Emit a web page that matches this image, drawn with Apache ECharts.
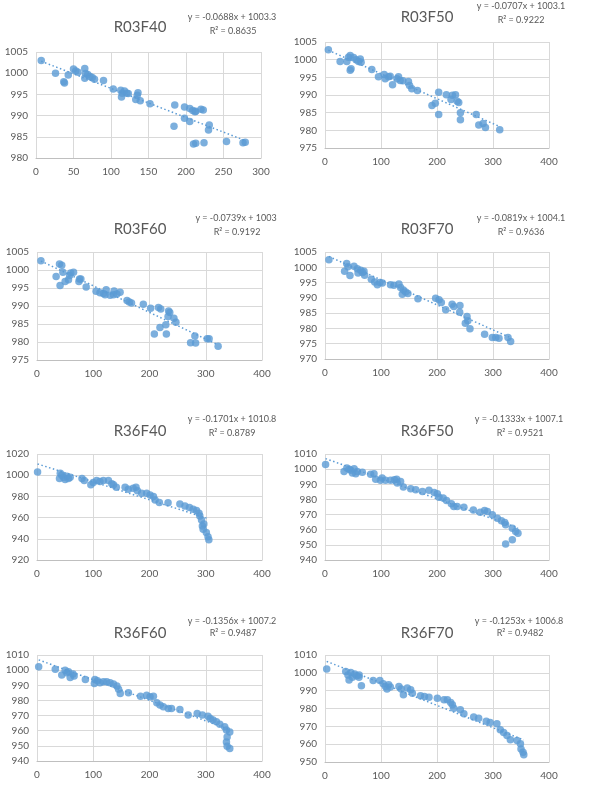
<!DOCTYPE html>
<html>
<head>
<meta charset="utf-8">
<script src="https://cdn.jsdelivr.net/npm/echarts@6/dist/echarts.min.js"></script>
<style>
html,body{margin:0;padding:0;background:#fff;}
#c{width:594px;height:789px;}
</style>
</head>
<body>
<div id="c"></div>
<script>
// ---- data ----
const titles = ['R03F40','R03F50','R03F60','R03F70','R36F40','R36F50','R36F60','R36F70'];
const slopes = [-0.0688,-0.0707,-0.0739,-0.0819,-0.1701,-0.1333,-0.1356,-0.1253];
const intercepts = [1003.3,1003.1,1003,1004.1,1010.8,1007.1,1007.2,1006.8];
const r2Labels = ['0.8635','0.9222','0.9192','0.9636','0.8789','0.9521','0.9487','0.9482'];
const slopeLabels = ['-0.0688','-0.0707','-0.0739','-0.0819','-0.1701','-0.1333','-0.1356','-0.1253'];
const interceptLabels = ['1003.3','1003.1','1003','1004.1','1010.8','1007.1','1007.2','1006.8'];
const xMax = [300,400,400,400,400,400,400,400];
const xStep = [50,100,100,100,100,100,100,100];
const yMin = [980,975,975,970,920,940,940,950];
const yMax = [1005,1005,1005,1005,1020,1010,1010,1010];
const yStep = [5,5,5,5,20,10,10,10];

const R03F40 = [[7,1003],[26,1000],[37,998],[38,997.7],[43,999.6],[50,1001],[53,1000.5],[56,1000.2],[65,1001.1],[66,999.9],[65,998.8],[69,999.7],[72,999.2],[75,999],[78,998.6],[90,998.3],[103,996.3],[113,996],[115,995.3],[114,994.4],[118,995.8],[121,995.3],[123,995.2],[133,993.8],[135,994.8],[136,995.4],[139,993.5],[152,992.8],[185,992.5],[184,987.5],[198,992],[198,989.4],[205,991.7],[205,988.6],[209,991.2],[212,990.9],[213,991],[220,991.5],[223,991.3],[210,983.3],[213,983.5],[224,983.6],[230,986.6],[231,987.8],[254,983.9],[276,983.6],[279,983.7]];
const R03F50 = [[6,1002.8],[27,999.5],[39,999.5],[42,1000.7],[45,1001.2],[45,997],[46.5,997.4],[51,1000.6],[55.5,1000],[60,999.5],[63,1000.2],[64.5,999.3],[83.6,997.2],[95.5,995.2],[105.7,995.8],[107.5,994.6],[113.4,995.2],[116.4,995.3],[120.6,992.9],[128.4,994.6],[131.3,995.2],[134.3,994.1],[139,994],[149,993.8],[151,992.7],[155,991.8],[165,991.3],[191,987],[197,987.7],[203,990.8],[203,984.5],[216.7,990.1],[225,988.7],[227.5,989.9],[233,990.1],[236,988.2],[238.8,987.9],[241.8,985],[241.8,983],[270,984.5],[274.6,981.5],[282.4,981.9],[286.5,980.8],[312,980.2]];
const R03F60 = [[7,1002.6],[34,998.2],[40,1001.7],[44,1001.3],[41,995.7],[46,999.4],[50,996.8],[56,997.3],[58,998.5],[60,999.2],[65,999.4],[74.5,996.8],[75.6,997.5],[78,997.5],[87.4,995.3],[105,994.1],[112,993.7],[118,993.5],[123,994.5],[121,993.1],[130,993],[136,993.1],[137,994.2],[142,993.3],[147.7,993.8],[160,991.5],[164,991.1],[168,990.8],[189,990.5],[202,989.4],[216,989.6],[220,989.2],[208.6,982.2],[218.6,984],[229,984.8],[230,982.2],[234,988.6],[236,988.2],[233,987.1],[243.4,986.6],[247,985.5],[273,979.8],[282,979.7],[280.7,981.7],[302.5,980.9],[306,980.9],[322,978.8]];
const R03F70 = [[7,1002.5],[35,998.7],[38.7,1001.2],[41,1000.2],[44.6,997.3],[51.8,1000.3],[57.7,999.5],[59,998.1],[63.7,999],[67,998.3],[70.8,997.4],[69.6,998.7],[82.7,996.1],[88.7,995.2],[93.5,994.3],[98,995],[102.4,994.9],[117,994.3],[123,994.1],[132,994.5],[135,993.4],[139.9,992.6],[138,991.2],[144,991.9],[148,991.4],[166,989.7],[197.6,989.9],[203.6,989.4],[207.7,988.5],[215.5,986.1],[227,987.9],[230,987.2],[241,987.5],[240.5,985.3],[253.6,983.9],[250.6,981.7],[255,982.5],[258.9,979.9],[285,978.1],[298.8,977],[305,977],[310.7,976.8],[326.8,977],[331.5,975.7]];
const R36F40 = [[1,1003],[40,997],[41.4,1001.9],[44,1000],[47,998],[50,996],[53,999],[56,997],[59,998],[80,997],[84,995],[95.7,991],[100,993],[106,995],[112,994],[118,995],[127,995],[133,992],[136,991],[141,988.6],[156.6,988.6],[162.5,986.7],[171,987.6],[176,988.6],[178.4,985.4],[186,983],[195,983],[201,981.4],[207,979.8],[210,976.6],[217.5,974.2],[233,974],[254,972.8],[263,971],[271,969.6],[277.7,967.8],[283.6,966.6],[288,964],[289.5,961.5],[292.5,957.7],[294,952],[296.6,954],[295.4,949],[301,946],[304,942],[305.5,939]];
const R36F50 = [[1,1003],[34,998.5],[39,1000.7],[43,1000],[46,999.2],[49,997.4],[52,1000.2],[55,997],[57.7,998.5],[66.7,998],[81.5,996.7],[87.5,997],[90.5,993.4],[99,992.6],[102,994.1],[108,992.6],[117,992.6],[124,993],[128,993.4],[129,990.8],[135,991.9],[140,988.2],[153,987],[162,986.4],[174,985.3],[185.7,986],[195,984.6],[200.6,983.7],[203.6,981.5],[211,980.9],[217,979.3],[225.6,977.1],[230,975.3],[236,975.3],[248,974.9],[264.9,973.1],[277,971.6],[285,972.7],[290,972],[298.8,969.8],[307.7,967.6],[315,966],[321,964.7],[322.6,963.2],[334.5,961],[340.5,958.8],[344.6,957.7],[322.6,950.6],[334.5,953.3]];
const R36F60 = [[3,1002.3],[32.5,1000.6],[44,996.8],[50,1000],[53,998.3],[56,999],[59,995.2],[64,997.4],[66,996.1],[86,993.9],[103,993.9],[102,991.2],[107.5,993],[112,991.7],[118,992.3],[124,992.3],[130,991.7],[136,990.8],[142,989.5],[145,987.3],[148,984.6],[162.5,985.1],[184,982.8],[195,983.5],[201,982.4],[207,982.8],[213,978.4],[218.6,976.9],[224.5,975.8],[233.4,974.7],[239,974.7],[254,974],[268.8,970.3],[284.8,971.4],[294,970.3],[304,969.6],[308,968.1],[313,967],[319,965.9],[325,964.3],[333.6,962.6],[336.8,960.4],[342.7,959.2],[338,955.9],[336.8,952.6],[338,949.7],[342.7,948.2]];
const R36F70 = [[3,1002.2],[37,1000.7],[41,998.8],[43,996],[46,1000.2],[49,997.5],[53,999.4],[56.5,998.3],[60.7,997.5],[65,992.7],[61,998.8],[86,995.7],[98,995.7],[104,993.9],[108,992.4],[110.7,990.9],[113.7,993.3],[116.7,992],[132,992.4],[140,987.7],[136,990.9],[147,991.5],[153,990.5],[156,988.6],[170.6,987.1],[177.7,986.7],[185.7,986.3],[200.6,985.8],[212.5,984.9],[218.5,984.9],[224.4,983.4],[227.4,982.1],[230,980.2],[241.7,979.3],[248,977],[265.5,975.2],[274.4,974.6],[288,972.8],[295,972.2],[307,971.5],[313,968.1],[319,966.6],[325,964.8],[331,962.5],[343,962.1],[349,960.3],[350,957.3],[353.6,955.4],[355,954.1]];
const datasets = [R03F40,R03F50,R03F60,R03F70,R36F40,R36F50,R36F60,R36F70];

// ---- layout ----
const grids = [
  {left:36,top:52,width:225,height:106},
  {left:325,top:42,width:224,height:106},
  {left:37,top:252,width:225,height:108},
  {left:325,top:252,width:224,height:107},
  {left:37,top:454,width:225,height:106},
  {left:325,top:454,width:224,height:106},
  {left:37,top:655,width:225,height:106},
  {left:325,top:655,width:224,height:107}
];
const titlePos = [[140,27],[427,17],[140,229],[427,229],[140,431],[427,431],[140,633],[427,633]];
const eqPos = [[232,17,233,31],[521,6,521,20],[236,218,237,232],[521,218,521,232],[232,419,232,433],[519,419,520,433],[232,621,233,633],[519,621,520,633]];

const FONT = 'Lato, "Open Sans", sans-serif';
const TXT = '#595959';
const BLUE = '#5B9BD5';
const GRID = '#d9d9d9';
const plain = v => String(v);

const chart = echarts.init(document.getElementById('c'));
const xAxes=[], yAxes=[], series=[], gfx=[];
for (let i=0;i<8;i++){
  xAxes.push({type:'value',gridIndex:i,min:0,max:xMax[i],interval:xStep[i],
    axisLine:{show:true,lineStyle:{color:'#bfbfbf'}},axisTick:{show:false},
    splitLine:{show:true,lineStyle:{color:GRID}},
    axisLabel:{color:TXT,fontSize:10,fontFamily:FONT,margin:9,formatter:plain}});
  yAxes.push({type:'value',gridIndex:i,min:yMin[i],max:yMax[i],interval:yStep[i],
    axisLine:{show:false},axisTick:{show:false},
    splitLine:{show:true,lineStyle:{color:GRID}},
    axisLabel:{color:TXT,fontSize:10,fontFamily:FONT,margin:8,formatter:plain}});
  const d = datasets[i];
  series.push({type:'scatter',xAxisIndex:i,yAxisIndex:i,data:d,symbolSize:7.5,
    itemStyle:{color:BLUE},z:2});
  const xs = d.map(p=>p[0]);
  const x0 = Math.min(...xs), x1 = Math.max(...xs);
  series.push({type:'line',xAxisIndex:i,yAxisIndex:i,symbol:'none',silent:true,z:3,
    data:[[x0,slopes[i]*x0+intercepts[i]],[x1,slopes[i]*x1+intercepts[i]]],
    lineStyle:{color:BLUE,width:1.5,type:[1.5,2.5]}});
  gfx.push({type:'text',x:titlePos[i][0],y:titlePos[i][1],z:10,
    style:{text:titles[i],fill:TXT,font:'15px '+FONT,textAlign:'center',textVerticalAlign:'middle'}});
  gfx.push({type:'text',x:eqPos[i][0],y:eqPos[i][1],z:10,
    style:{text:'y = '+slopeLabels[i]+'x + '+interceptLabels[i],fill:TXT,font:'9px '+FONT,textAlign:'center',textVerticalAlign:'middle'}});
  gfx.push({type:'text',x:eqPos[i][2],y:eqPos[i][3],z:10,
    style:{text:'R² = '+r2Labels[i],fill:TXT,font:'9px '+FONT,textAlign:'center',textVerticalAlign:'middle'}});
}
chart.setOption({
  animation:false,
  backgroundColor:'#fff',
  grid:grids,
  xAxis:xAxes,
  yAxis:yAxes,
  series:series,
  graphic:gfx
});
</script>
</body>
</html>
